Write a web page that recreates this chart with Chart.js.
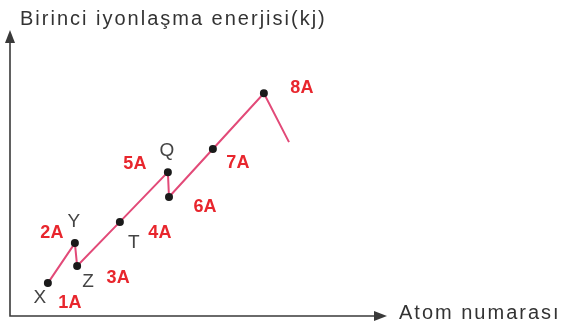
<!DOCTYPE html>
<html>
<head>
<meta charset="utf-8">
<script src="https://cdn.jsdelivr.net/npm/chart.js@4"></script>
<style>
  html, body { margin: 0; padding: 0; background: #fff; }
  #wrap { width: 566px; height: 331px; }
</style>
</head>
<body>
<div id="wrap"><canvas id="ieChart"></canvas></div>
<script>
// values (arbitrary units, 0..100 both ways)
const atomNo   = [10.1, 17.3, 17.9, 29.3, 42.1, 42.4, 54.1, 67.7, 74.4];
const energy   = [11.5, 25.5, 17.5, 32.9, 50.3, 41.6, 58.4, 77.9, 60.8];
const letters  = ['X', 'Y', 'Z', 'T', 'Q', '', '', '', ''];
const groups   = ['1A', '2A', '3A', '4A', '5A', '6A', '7A', '8A', ''];

// label offsets (px) from each point
const letterOff = [[-8, 15], [-1, -21], [11, 16], [14, 21], [-1, -21], [0, 0], [0, 0], [0, 0], [0, 0]];
const groupOff  = [[22, 20], [-23, -10], [41, 12], [40, 11], [-33, -8], [36, 10], [25, 14], [38, -5], [0, 0]];

const axisColor = '#3a3a3a';

const axesPlugin = {
  id: 'axesPlugin',
  afterDraw(chart) {
    const c = chart.ctx, a = chart.chartArea;
    c.save();
    c.strokeStyle = axisColor;
    c.fillStyle = axisColor;
    c.lineWidth = 1.6;
    c.beginPath();
    c.moveTo(a.left, a.top + 6);
    c.lineTo(a.left, a.bottom);
    c.lineTo(a.right - 6, a.bottom);
    c.stroke();
    // arrow heads
    c.beginPath();
    c.moveTo(a.left, a.top);
    c.lineTo(a.left - 5, a.top + 13);
    c.lineTo(a.left + 5, a.top + 13);
    c.closePath();
    c.fill();
    c.beginPath();
    c.moveTo(a.right + 2, a.bottom);
    c.lineTo(a.right - 11, a.bottom - 5);
    c.lineTo(a.right - 11, a.bottom + 5);
    c.closePath();
    c.fill();

    c.font = '20px "Liberation Sans", Arial, sans-serif';
    c.letterSpacing = '2px';
    c.fillStyle = '#333';
    c.textBaseline = 'middle';
    c.textAlign = 'left';
    c.fillText('Birinci iyonlaşma enerjisi(kj)', 20, 19);
    c.fillText('Atom numarası', a.right + 14, a.bottom - 3);
    c.letterSpacing = '0px';

    // point labels
    const meta = chart.getDatasetMeta(0);
    c.textAlign = 'center';
    meta.data.forEach((pt, i) => {
      if (letters[i]) {
        c.font = '19px "Liberation Sans", Arial, sans-serif';
        c.fillStyle = '#444';
        c.fillText(letters[i], pt.x + letterOff[i][0], pt.y + letterOff[i][1]);
      }
      if (groups[i]) {
        c.font = 'bold 18px "Liberation Sans", Arial, sans-serif';
        c.fillStyle = '#e8262d';
        c.fillText(groups[i], pt.x + groupOff[i][0], pt.y + groupOff[i][1]);
      }
    });
    c.restore();
  }
};

const ctx = document.getElementById('ieChart');

new Chart(ctx, {
  type: 'scatter',
  data: {
    datasets: [{
      data: atomNo.map((x, i) => ({ x: x, y: energy[i] })),
      showLine: true,
      borderColor: '#e24a78',
      borderWidth: 2,
      pointBackgroundColor: '#1a1a1a',
      pointBorderColor: '#1a1a1a',
      pointRadius: atomNo.map((x, i) => i === atomNo.length - 1 ? 0 : 3),
      tension: 0
    }]
  },
  options: {
    responsive: true,
    maintainAspectRatio: false,
    animation: false,
    layout: { padding: { left: 10, top: 30, right: 181, bottom: 15 } },
    scales: {
      x: { display: false, min: 0, max: 100 },
      y: { display: false, min: 0, max: 100 }
    },
    plugins: {
      legend: { display: false },
      tooltip: { enabled: false }
    }
  },
  plugins: [axesPlugin]
});
</script>
</body>
</html>
